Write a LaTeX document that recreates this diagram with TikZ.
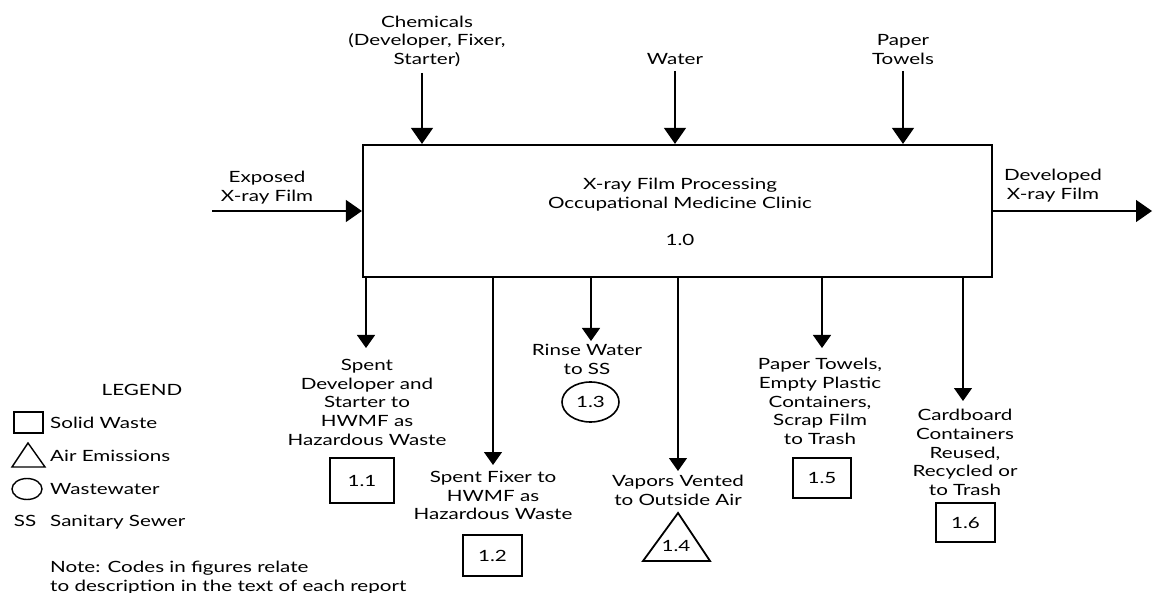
\documentclass[tikz,border=0pt]{standalone}
\usepackage{fontspec}
\setmainfont{Lato}[FakeStretch=1.33]
\usepackage{tikz}
\usetikzlibrary{arrows.meta}
\usetikzlibrary{shapes.geometric}

\begin{document}
\begin{tikzpicture}[x=1pt, y=-1pt,
    every node/.style={font=\fontsize{15.5}{18.7}\selectfont, align=center, inner sep=0pt},
    bigarrow/.style={-{Triangle[width=22pt,length=16pt]}, line width=1.3pt},
    outarrow/.style={-{Triangle[width=18pt,length=13pt]}, line width=1.3pt},
    codebox/.style={draw, line width=1.8pt, minimum width=59pt, minimum height=40pt}]
    \useasboundingbox (0,0) rectangle (1153,593);

    \node[draw, line width=2.2pt, minimum width=629pt, minimum height=132pt] (proc) at (677.5,211) {};
    \node (procname) at (680,212) {X-ray Film Processing\\Occupational Medicine Clinic\\[19pt]1.0};

    \node[anchor=south] (chem) at (427,67) {Chemicals\\(Developer, Fixer,\\Starter)};
    \node[anchor=south] (water) at (675,65) {Water};
    \node[anchor=south] (towels) at (903,65) {Paper\\Towels};
    \coordinate (chemin) at (proc.north -| 422,0);
    \draw[bigarrow, shorten <=6pt] (chem.south -| chemin) -- (chemin);
    \draw[bigarrow, shorten <=6pt] (water.south) -- (water.south |- proc.north);
    \draw[bigarrow, shorten <=6pt] (towels.south) -- (towels.south |- proc.north);

    \node[anchor=south] (filmin) at (267,204) {Exposed\\X-ray Film};
    \node[anchor=south] (filmout) at (1053,202) {Developed\\X-ray Film};
    \coordinate (filmstart) at (212,211);
    \coordinate (filmend) at (1152,211);
    \draw[bigarrow] (filmstart) -- (proc.west);
    \draw[bigarrow] (proc.east) -- (filmend);

    \node[anchor=north] (o1) at (367,359) {Spent\\Developer and\\Starter to\\HWMF as\\Hazardous Waste};
    \node[anchor=north] (o2) at (493,471) {Spent Fixer to\\HWMF as\\Hazardous Waste};
    \node[anchor=north] (o3) at (587,344) {Rinse Water\\to SS};
    \node[anchor=north] (o4) at (678,475) {Vapors Vented\\to Outside Air};
    \node[anchor=north] (o5) at (820,358) {Paper Towels,\\Empty Plastic\\Containers,\\Scrap Film\\to Trash};
    \node[anchor=north] (o6) at (965,409) {Cardboard\\Containers\\Reused,\\Recycled or\\to Trash};
    \draw[outarrow, shorten >=11pt] (proc.south -| 366,0) -- (o1.north -| 366,0);
    \draw[outarrow, shorten >=6pt] (proc.south -| o2.north) -- (o2.north);
    \draw[outarrow, shorten >=3pt] (proc.south -| 591,0) -- (o3.north -| 591,0);
    \draw[outarrow, shorten >=4pt] (proc.south -| o4.north) -- (o4.north);
    \draw[outarrow, shorten >=10pt] (proc.south -| 822,0) -- (o5.north -| 822,0);
    \draw[outarrow, shorten >=8pt] (proc.south -| 963,0) -- (o6.north -| 963,0);

    \node[codebox, minimum width=64pt, minimum height=45pt] (c1) at (362,480.5) {1.1};
    \node[codebox, minimum height=41pt] (c2) at (492.5,555.5) {1.2};
    \node[draw, ellipse, line width=1.6pt, minimum width=57pt, minimum height=40pt] (c3) at (590.5,402) {1.3};
    \draw[line width=1.8pt] (678,513) coordinate (t4) -- (710,561) -- (643,561) -- cycle;
    \node (c4) at (676,546) {1.4};
    \node[codebox, minimum width=58pt] (c5) at (822,478) {1.5};
    \node[codebox, minimum height=39pt] (c6) at (965.5,522.5) {1.6};

    \node[anchor=base] (legend) at (142,395) {LEGEND};
    \draw[line width=1.4pt] (14,412) rectangle (43,433);
    \node[anchor=base west] (solid) at (50,428) {Solid Waste};
    \draw[line width=1.4pt] (28,443) -- (45,467) -- (12,467) -- cycle;
    \node[anchor=base west] (air) at (50,461) {Air Emissions};
    \draw[line width=1.4pt] (27,489) ellipse (15 and 10.5);
    \node[anchor=base west] (wastewater) at (50,494) {Wastewater};
    \node[anchor=base] (ss) at (25,526) {SS};
    \node[anchor=base west] (sewer) at (50,526) {Sanitary Sewer};
    \node[anchor=base west, align=left] (note) at (50,591) {Note: Codes in figures relate\\to description in the text of each report};
\end{tikzpicture}
\end{document}
